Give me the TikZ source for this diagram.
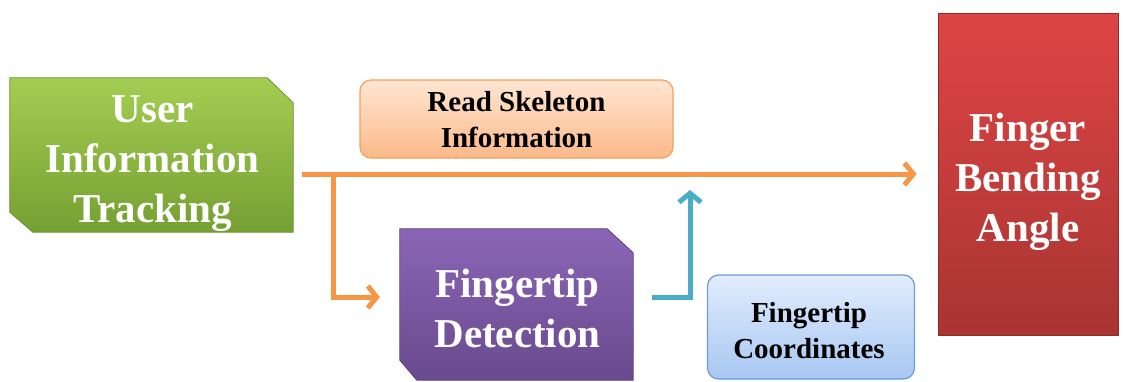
\documentclass[tikz,border=0pt]{standalone}
\usepackage{fontspec}
\setmainfont{Liberation Serif}
\usetikzlibrary{arrows.meta,calc,backgrounds}

\definecolor{gTop}{HTML}{A4CD52}
\definecolor{gBot}{HTML}{75A032}
\definecolor{gEdge}{HTML}{6A8F2C}
\definecolor{pTop}{HTML}{8A65B6}
\definecolor{pBot}{HTML}{694A8D}
\definecolor{pEdge}{HTML}{5A3F7A}
\definecolor{rTop}{HTML}{DE4544}
\definecolor{rBot}{HTML}{A83432}
\definecolor{rEdge}{HTML}{8E2A28}
\definecolor{oTop}{HTML}{FFE6D2}
\definecolor{oBot}{HTML}{FBB98A}
\definecolor{oEdge}{HTML}{F5A05A}
\definecolor{bTop}{HTML}{E2EDFD}
\definecolor{bBot}{HTML}{A7C7F2}
\definecolor{bEdge}{HTML}{6C9CD6}
\definecolor{flowOrange}{HTML}{F79646}
\definecolor{flowTeal}{HTML}{4BACC6}

\tikzset{
  x=1pt, y=-1pt,
  bigtext/.style={font=\fontsize{41}{50}\selectfont\bfseries, text=white, align=center, inner sep=0pt},
  smalltext/.style={font=\fontsize{29}{36}\selectfont\bfseries, text=black, align=center, inner sep=0pt},
  holder/.style={rectangle, inner sep=0pt},
  softbox/.style={rectangle, rounded corners=11pt, line width=1.2pt, inner sep=0pt},
  flow/.style={line width=5pt, -{Straight Barb[length=9pt,width=22pt]}},
}

\begin{document}
\begin{tikzpicture}
\useasboundingbox (0,0) rectangle (1126,381);

% process boxes
\node[holder, minimum width=283pt, minimum height=154pt] (user) at (151.5,155) {};
\node[holder, minimum width=233pt, minimum height=151pt] (det) at (516.5,304.5) {};
\node[rectangle, inner sep=0pt, minimum width=180pt, minimum height=322pt,
      top color=rTop, bottom color=rBot, draw=rEdge, line width=0.8pt] (angle) at (1028,174) {};

% data boxes
\node[softbox, minimum width=313pt, minimum height=78pt,
      top color=oTop, bottom color=oBot, draw=oEdge] (skel) at (516.5,119) {};
\node[softbox, minimum width=207pt, minimum height=104pt,
      top color=bTop, bottom color=bBot, draw=bEdge] (coord) at (811,327) {};

% snipped-corner outlines behind the process boxes
\begin{scope}[on background layer]
  \path[top color=gTop, bottom color=gBot, draw=gEdge, line width=0.8pt]
    (user.north west) -- ($(user.north east)+(-26,0)$) -- ($(user.north east)+(0,25)$)
    -- (user.south east) -- ($(user.south west)+(23,0)$) -- ($(user.south west)+(0,-20)$) -- cycle;
  \path[top color=pTop, bottom color=pBot, draw=pEdge, line width=0.8pt]
    (det.north west) -- ($(det.north east)+(-26,0)$) -- ($(det.north east)+(0,24)$)
    -- (det.south east) -- ($(det.south west)+(17,0)$) -- ($(det.south west)+(0,-20)$) -- cycle;
\end{scope}

% box captions
\node[bigtext] (user-txt) at ($(user.center)+(1,9)$) {User\\Information\\Tracking};
\node[bigtext] (det-txt) at ($(det.center)+(1,4)$) {Fingertip\\Detection};
\node[bigtext] (angle-txt) at ($(angle.center)+(0,8)$) {Finger\\Bending\\Angle};
\node[smalltext] (skel-txt) at ($(skel.center)+(0,1)$) {Read Skeleton\\Information};
\node[smalltext] (coord-txt) at ($(coord.center)+(-2,4)$) {Fingertip\\Coordinates};

% connector end points
\coordinate (src) at (302,174);
\coordinate (tap) at (333,174);
\coordinate (detin) at (380,297);
\coordinate (detout) at (652,297);
\coordinate (rise) at (690,190);

% connectors
\draw[flow, draw=flowOrange, shorten >=21pt] (src) -- (src -| angle.west);
\draw[flow, draw=flowOrange] (tap) |- (detin);
\draw[flow, draw=flowTeal] (detout) -| (rise);
\end{tikzpicture}
\end{document}
